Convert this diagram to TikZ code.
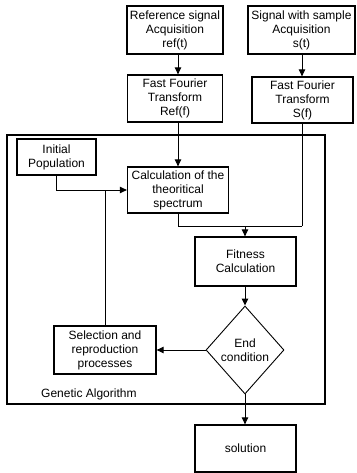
\documentclass[tikz,border=0pt]{standalone}
\usepackage{fontspec}
\setmainfont{Liberation Sans}
\usetikzlibrary{arrows.meta,shapes.geometric}
\begin{document}
\begin{tikzpicture}[x=1pt,y=-1pt,
  font=\fontsize{12}{14}\selectfont,
  boxst/.style={draw,line width=1.3pt,inner sep=0pt,align=center},
  lnk/.style={line width=0.9pt},
  arr/.style={line width=0.9pt,-{Triangle[length=7pt,width=6.5pt]}}]
\useasboundingbox (0,0) rectangle (356,473);
\node[boxst,minimum width=96pt,minimum height=48pt] (refacq) at (175,30) {Reference signal\\Acquisition\\ref(t)};
\node[boxst,minimum width=107pt,minimum height=48pt] (sigacq) at (301.5,30) {Signal with sample\\Acquisition\\s(t)};
\node[boxst,minimum width=95pt,minimum height=47pt] (fftref) at (175,98.5) {Fast Fourier\\Transform\\Ref(f)};
\node[boxst,minimum width=101pt,minimum height=46pt] (ffts) at (302.5,100) {Fast Fourier\\Transform\\S(f)};
\node[draw,line width=1.3pt,minimum width=318pt,minimum height=269pt,inner sep=0pt] (ga) at (166,269.5) {};
\node[anchor=west,inner sep=0pt] (galabel) at (41,394) {Genetic Algorithm};
\node[boxst,minimum width=79pt,minimum height=36pt] (initpop) at (56.5,157) {Initial\\Population};
\node[boxst,minimum width=101pt,minimum height=46pt] (calc) at (178,190) {Calculation of the\\theoritical\\spectrum};
\node[boxst,minimum width=101pt,minimum height=49pt] (fit) at (245.5,261.5) {Fitness\\Calculation};
\node[draw,line width=0.9pt,diamond,aspect=0.886,minimum width=78pt,minimum height=88pt,inner sep=0pt,align=center] (endc) at (245,350) {End\\condition};
\node[boxst,minimum width=102pt,minimum height=48pt] (sel) at (105,350) {Selection and\\reproduction\\processes};
\node[boxst,minimum width=101pt,minimum height=47pt] (sol) at (245.5,448.5) {solution};
\coordinate (jr) at (302,226);
\coordinate (jm) at (245,226);
\draw[arr] (refacq.south -| calc.north) -- (fftref.north -| calc.north);
\draw[arr] (sigacq.south -| jr) -- (ffts.north -| jr);
\draw[arr] (fftref.south -| calc.north) -- (calc.north);
\draw[lnk] (ffts.south -| jr) -- (jr);
\draw[lnk] (calc.south) |- (jr);
\draw[arr] (jm) -- (fit.north -| jm);
\draw[arr] (initpop.south) |- (calc.west);
\draw[lnk] (sel.north) -- (sel.north |- calc.west);
\draw[arr] (fit.south -| endc.north) -- (endc.north);
\draw[arr] (endc.west) -- (sel.east);
\draw[arr] (endc.south) -- (sol.north -| endc.south);
\end{tikzpicture}
\end{document}
